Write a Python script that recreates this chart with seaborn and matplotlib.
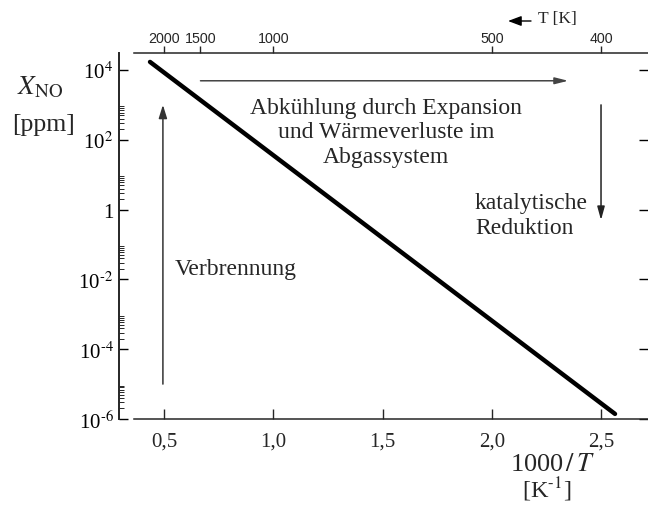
import numpy as np
import pandas as pd
import matplotlib
matplotlib.use("Agg")
import matplotlib.pyplot as plt
from matplotlib.ticker import FixedLocator, NullFormatter
import seaborn as sns

# ---- data ----
inv_T = [0.436, 2.564]          # 1000/T [1/K]
x_no = [1.7e4, 1.4e-6]          # X_NO [ppm]
y_ticks = [1e-6, 1e-4, 1e-2, 1, 1e2, 1e4]
y_labels = ["10$^{\\text{-6}}$", "10$^{\\text{-4}}$", "10$^{\\text{-2}}$", "1",
            "10$^{2}$", "10$^{4}$"]
x_ticks = [0.5, 1.0, 1.5, 2.0, 2.5]
x_labels = ["0,5", "1,0", "1,5", "2,0", "2,5"]
T_ticks = [2000, 1500, 1000, 500, 400]

sns.set_style("ticks")
plt.rcParams["font.family"] = ["Liberation Serif", "DejaVu Serif"]
plt.rcParams["mathtext.fontset"] = "stix"

fig = plt.figure(figsize=(6.48, 5.06), dpi=100)
W, H = 648, 506
ax = fig.add_axes([134 / W, 1 - 420 / H, (648 - 134) / W, (420 - 54) / H])

df = pd.DataFrame({"inv_T": inv_T, "x_no": x_no})
sns.lineplot(data=df, x="inv_T", y="x_no", ax=ax, color="black", lw=3.2)

ax.set_yscale("log")
ax.set_xlim(0.3627, 2.715)
ax.set_ylim(1e-6, 10 ** 4.486)
ax.set_xlabel("")
ax.set_ylabel("")

# top temperature axis
axt = ax.twiny()
axt.set_xlim(ax.get_xlim())
axt.set_xticks([1000.0 / t for t in T_ticks])
axt.set_xticklabels([str(t) for t in T_ticks], fontsize=10.3,
                    family=["Liberation Sans", "DejaVu Sans"])
axt.tick_params(axis="x", direction="out", length=5, width=1.0, pad=1)
for s in ("left", "right", "bottom"):
    axt.spines[s].set_visible(False)
axt.spines["top"].set_linewidth(1.1)

# spines
ax.spines["top"].set_visible(False)
ax.spines["right"].set_visible(False)
ax.spines["left"].set_position(("outward", 10.8))
ax.spines["left"].set_linewidth(1.4)
ax.spines["bottom"].set_linewidth(1.1)

ax.yaxis.set_major_locator(FixedLocator(y_ticks))
ax.set_yticklabels(y_labels, fontsize=15)
minor = [k * 10.0 ** e for e in (-6, -4, -2, 0, 2) for k in range(2, 10)]
ax.yaxis.set_minor_locator(FixedLocator(minor))
ax.yaxis.set_minor_formatter(NullFormatter())
ax.tick_params(axis="y", which="major", direction="in", length=6.5, width=1.0,
               left=True, right=True, pad=4, colors="black")
ax.tick_params(axis="y", which="minor", direction="in", length=3.6, width=0.7,
               left=True, right=False)

ax.set_xticks(x_ticks)
ax.set_xticklabels(x_labels, fontsize=15)
ax.tick_params(axis="x", which="major", direction="in", length=7, width=1.0, pad=9)
ax.xaxis.set_minor_locator(FixedLocator([]))

# arrows
ax.annotate("", xy=(0.495, 1.0e3), xytext=(0.495, 1.0e-5),
            arrowprops=dict(arrowstyle="-|>,head_length=0.8,head_width=0.25",
                            color="#333333", lw=1.1, shrinkA=0, shrinkB=0))
ax.annotate("", xy=(2.35, 4.9e3), xytext=(0.667, 4.9e3),
            arrowprops=dict(arrowstyle="-|>,head_length=0.8,head_width=0.2",
                            color="#444444", lw=1.1, shrinkA=0, shrinkB=0))
ax.annotate("", xy=(2.5, 0.5), xytext=(2.5, 1.0e3),
            arrowprops=dict(arrowstyle="-|>,head_length=0.8,head_width=0.22",
                            color="#222222", lw=1.1, shrinkA=0, shrinkB=0))

# annotation texts (figure pixel coordinates)
def ftext(x, y, s, **kw):
    fig.text(x / W, 1 - y / H, s, **kw)

ftext(386, 133, "Abkühlung durch Expansion\nund Wärmeverluste im\nAbgassystem",
      ha="center", va="center", fontsize=17, linespacing=1.2)
ftext(475, 216, "katalytische\nReduktion", ha="left", va="center",
      fontsize=17, linespacing=1.2)
ftext(175, 269, "Verbrennung", ha="left", va="center", fontsize=17)

ftext(40, 88, "$X_{\\mathrm{NO}}$", ha="center", va="center", fontsize=19.5)
ftext(43, 125, "[ppm]", ha="center", va="center", fontsize=18.5)

ftext(553, 465, "1000$\\,/\\,$$T$", ha="center", va="center", fontsize=19)
ftext(547, 490, "[K$^{\\text{-1}}$]", ha="center", va="center", fontsize=17.5)

fig.add_artist(matplotlib.patches.FancyArrowPatch(
    (531 / W, 1 - 22 / H), (508 / W, 1 - 22 / H), transform=fig.transFigure,
    arrowstyle="-|>,head_length=0.8,head_width=0.3", color="black", lw=1.0,
    mutation_scale=10, shrinkA=0, shrinkB=0))
ftext(557, 19, "T [K]", ha="center", va="center", fontsize=12.5)

fig.savefig("out.png", dpi=100)
